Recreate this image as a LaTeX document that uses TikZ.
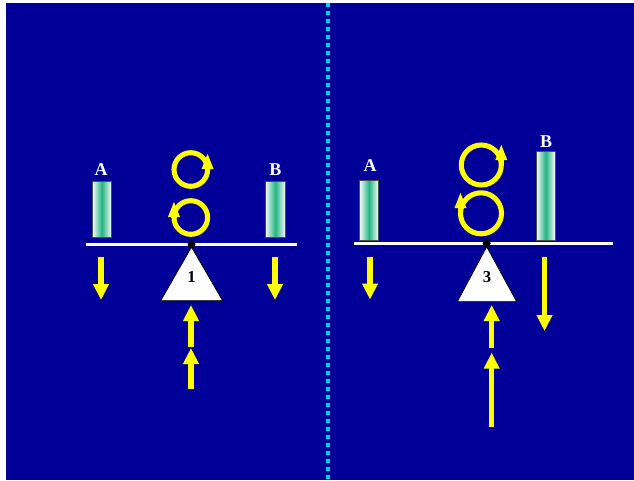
\documentclass[tikz,border=0pt]{standalone}
\usepackage{fontspec}
\setmainfont{Liberation Serif}
\usetikzlibrary{arrows.meta}
\definecolor{slideblue}{RGB}{0,0,153}
\definecolor{forceyellow}{RGB}{255,255,0}
\definecolor{barteal}{RGB}{35,180,130}
\definecolor{dotcyan}{RGB}{0,204,255}
\tikzset{
  force/.style={draw=forceyellow, line width=4.1pt, -{Triangle[width=11.25pt,length=12pt]}, forceyellow},
  ring/.style={draw=forceyellow, line width=3.8pt},
  spin/.style={forceyellow, line width=3.8pt, -{Triangle[width=8pt,length=12pt]}},
  beam/.style={white, line width=2.2pt},
  bar/.style={draw=black!70, line width=0.5pt, left color=white, right color=white, middle color=barteal},
  fulcrum/.style={draw=black, fill=white, line width=0.6pt},
  weightlabel/.style={text=white, font=\fontsize{13.5}{15}\selectfont\bfseries, inner sep=0pt},
  ratiolabel/.style={text=black, font=\fontsize{12.5}{14}\selectfont\bfseries, inner sep=0pt},
}
\begin{document}
\begin{tikzpicture}[x=0.75pt,y=0.75pt,yscale=-1,xscale=1]
\useasboundingbox (0,0) rectangle (634,480);
%Shape: Rectangle [background]
\fill[white] (0,0) rectangle (634,480);
\fill[slideblue] (6,3) rectangle (634,480);
%Dotted divider
\draw[dotcyan, line width=3pt, dash pattern=on 3pt off 3pt] (327.8,3) -- (327.8,480);

%%% left balance
%Shape: Beam
\draw[beam] (86,244.3) -- (297,244.3);
%Shape: Bars
\draw[bar] (92,181) rectangle (111.7,237.3);
\draw[bar] (265,181) rectangle (285.7,237.3);
% Text Node
\node[weightlabel] (wAleft) at (101,169.5) {A};
\node[weightlabel] (wBleft) at (275.3,169.5) {B};
%Shape: Fulcrum
\draw[fulcrum] (191.5,247) -- (222.7,300.7) -- (160.7,300.7) -- cycle;
\fill[black] (191.5,244.3) circle[radius=4];
% Text Node
\node[ratiolabel] (ratioleft) at (191.5,277) {1};
%Rotations
\coordinate (rotLtop) at (190.8,169.5);
\coordinate (rotLbot) at (190.8,217.5);
\draw[ring] (rotLtop) circle[radius=16.8];
\draw[ring] (rotLbot) circle[radius=16.8];
\coordinate (spinLtop) at (207.6,170);
\coordinate (spinLbot) at (174,218);
\draw[spin] (spinLtop) -- ++(0,-17);
\draw[spin] (spinLbot) -- ++(0,-17);
%Forces
\coordinate (fAleft) at (101,257);
\coordinate (fBleft) at (275,257);
\coordinate (upLone) at (191,347);
\coordinate (upLtwo) at (191,389);
\draw[force] (fAleft) -- ++(0,43);
\draw[force] (fBleft) -- ++(0,43);
\draw[force] (upLone) -- ++(0,-42);
\draw[force] (upLtwo) -- ++(0,-41);

%%% right balance
%Shape: Beam
\draw[beam] (354,243.3) -- (613,243.3);
%Shape: Bars
\draw[bar] (359.3,180) rectangle (378.7,240);
\draw[bar] (536,151) rectangle (555.3,240);
% Text Node
\node[weightlabel] (wAright) at (370,166) {A};
\node[weightlabel] (wBright) at (546,142) {B};
%Shape: Fulcrum
\draw[fulcrum] (486.7,246.7) -- (516.7,301.7) -- (457.3,301.7) -- cycle;
\fill[black] (486.7,243.3) circle[radius=4];
% Text Node
\node[ratiolabel] (ratioright) at (487,277.5) {3};
%Rotations
\coordinate (rotRtop) at (481.3,165);
\coordinate (rotRbot) at (481,213.3);
\draw[ring] (rotRtop) circle[radius=20];
\draw[ring] (rotRbot) circle[radius=20.5];
\coordinate (spinRtop) at (501.3,166);
\coordinate (spinRbot) at (460.5,214);
\draw[spin] (spinRtop) -- ++(0,-22);
\draw[spin] (spinRbot) -- ++(0,-22);
%Forces
\coordinate (fAright) at (370,257);
\coordinate (fBright) at (544.5,257);
\coordinate (upRone) at (491.7,347.5);
\coordinate (upRtwo) at (491.7,427);
\draw[force] (fAright) -- ++(0,42.5);
\draw[force] (fBright) -- ++(0,74);
\draw[force] (upRone) -- ++(0,-42.5);
\draw[force] (upRtwo) -- ++(0,-74.3);
\end{tikzpicture}
\end{document}
